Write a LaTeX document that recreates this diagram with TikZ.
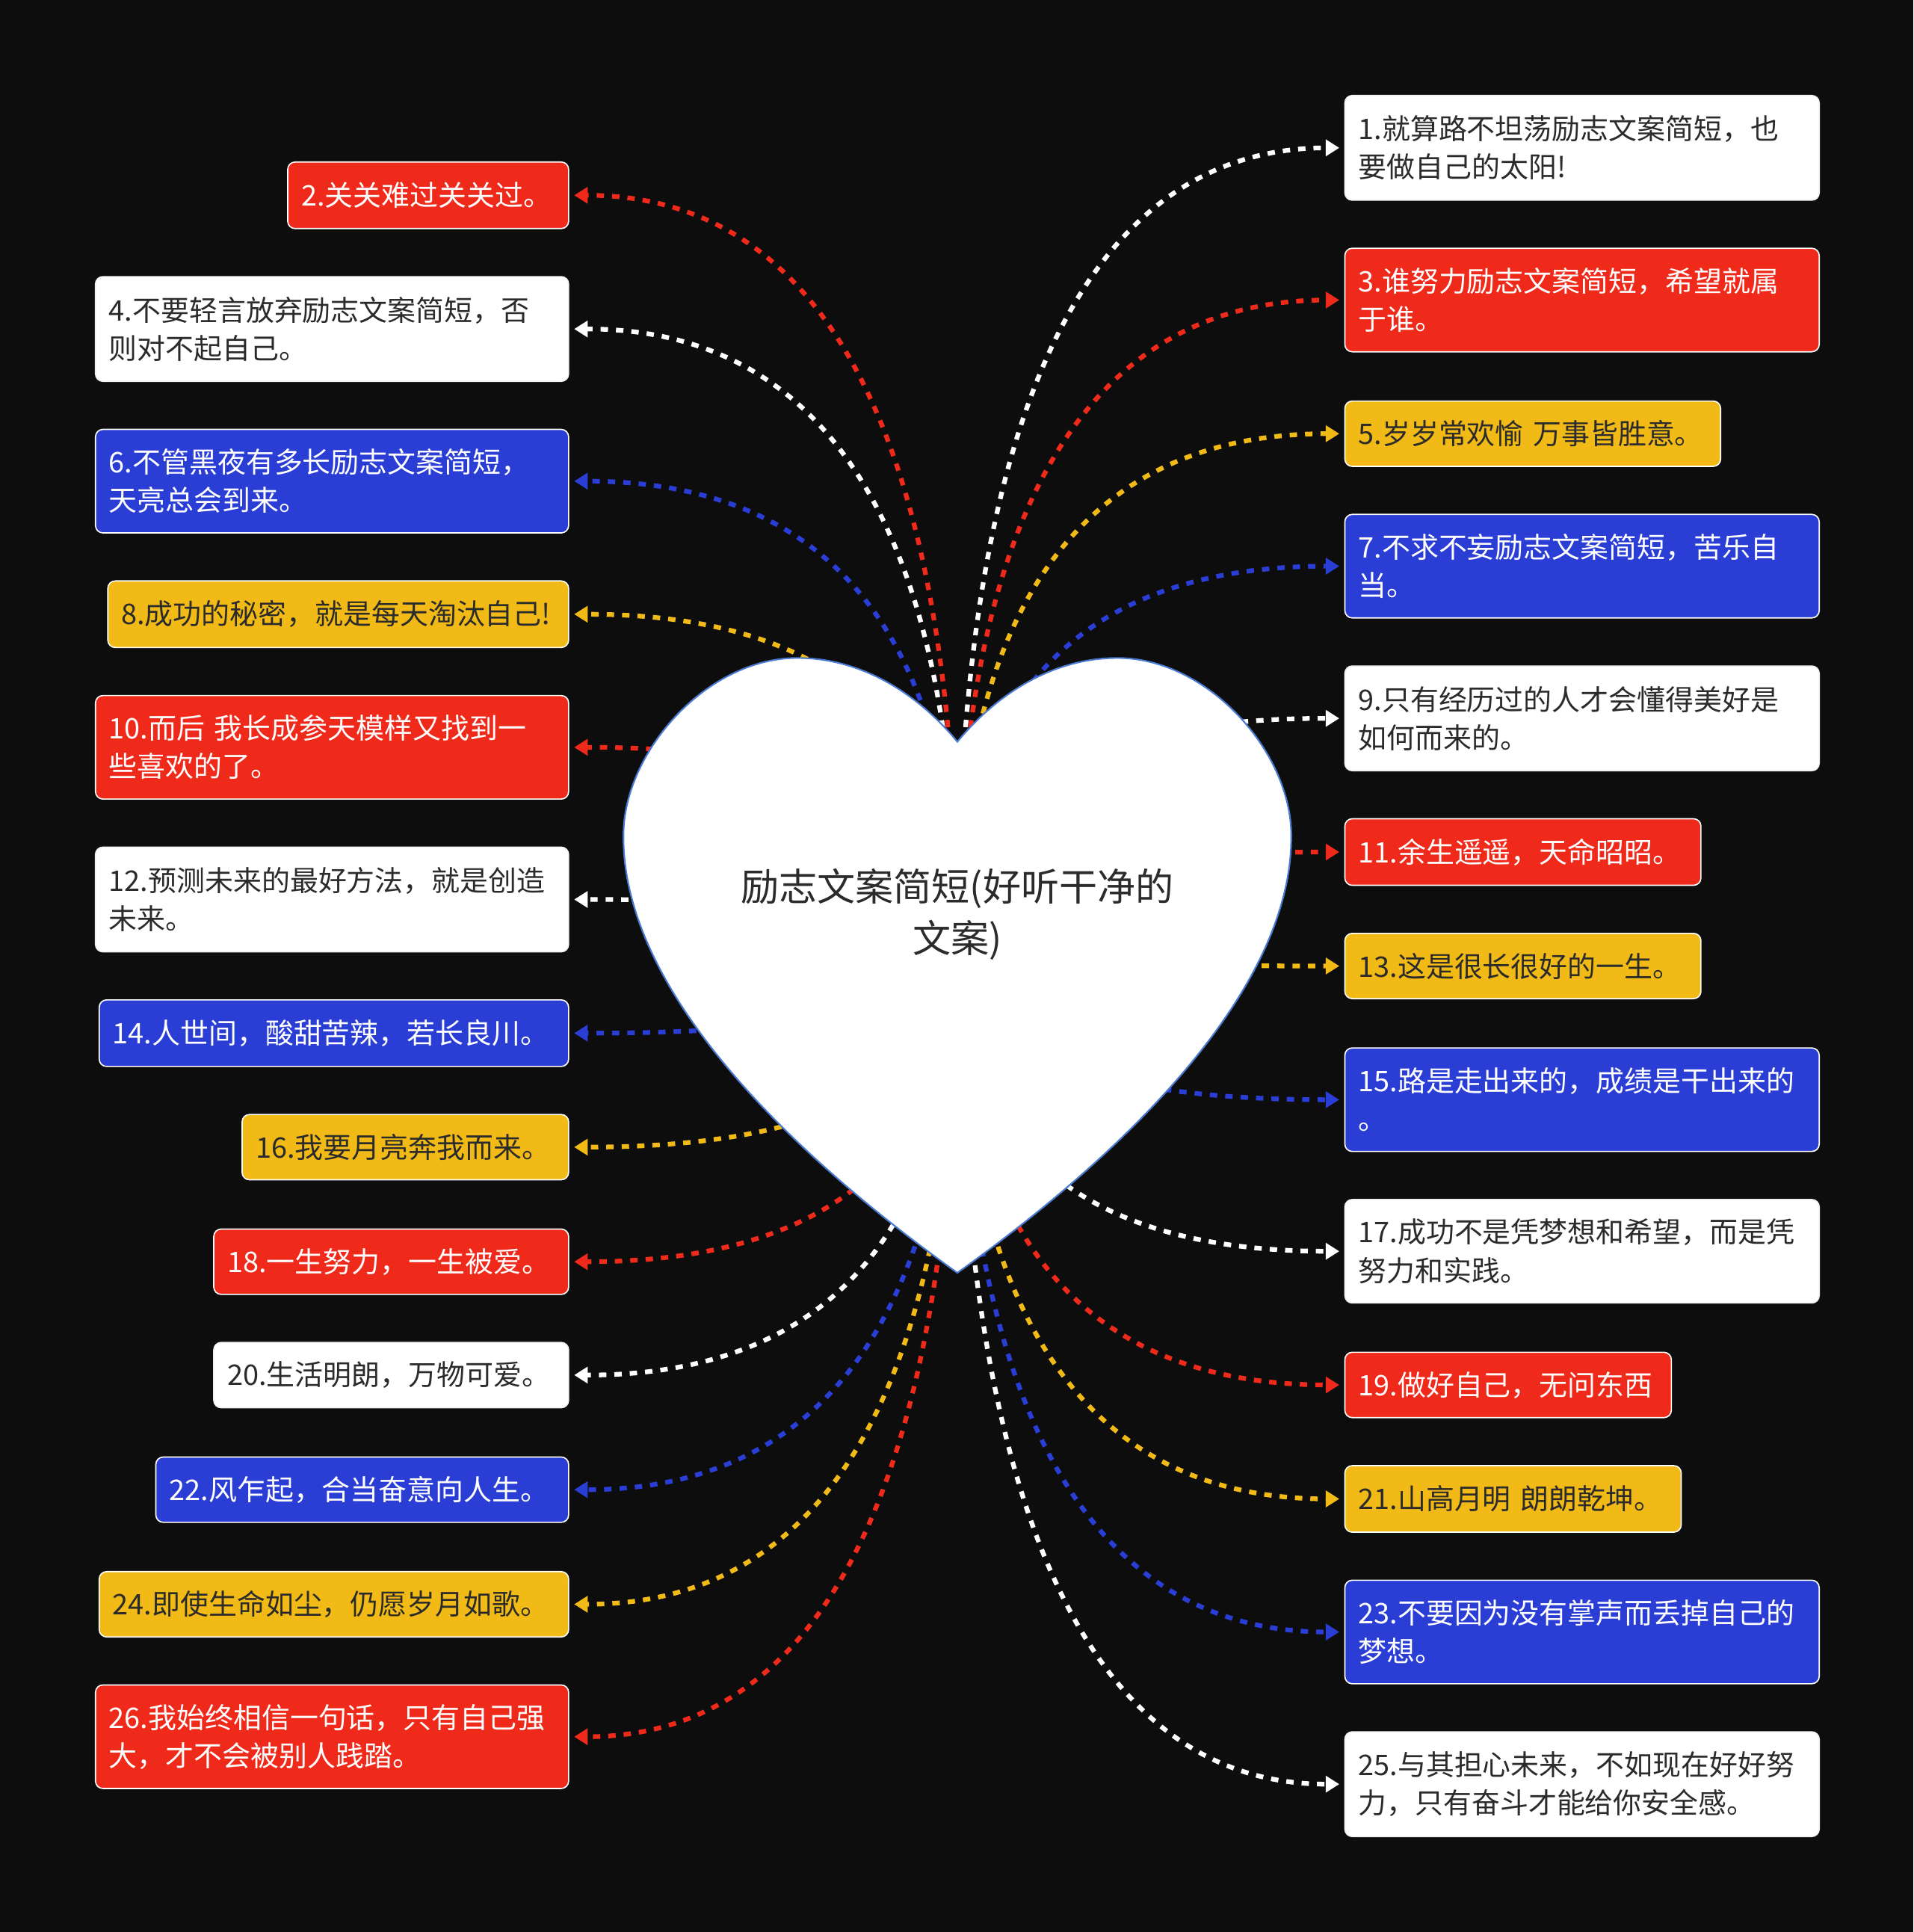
\documentclass[tikz,border=0pt]{standalone}
\usepackage{fontspec}
\setmainfont{Noto Sans CJK SC}
\usetikzlibrary{arrows.meta,calc}

\definecolor{bgdark}{HTML}{0D0D0D}
\definecolor{boxred}{HTML}{EF2A1B}
\definecolor{boxblue}{HTML}{2A3ED6}
\definecolor{boxyellow}{HTML}{F1BA17}
\definecolor{inkgray}{HTML}{2B2B2B}
\definecolor{heartline}{HTML}{4A7BD0}

\begin{document}
\begin{tikzpicture}[x=1pt, y=-1pt,
    card/.style={rectangle, rounded corners=6pt, draw=white, line width=1pt,
      anchor=north west, align=left, inner xsep=11pt, inner ysep=0pt,
      font=\fontsize{23}{31}\selectfont},
    wd/.style={minimum width=#1pt, text width=#1pt-22pt},
    ht/.style={minimum height=#1pt},
    redcard/.style={card, fill=boxred, text=white},
    bluecard/.style={card, fill=boxblue, text=white},
    yellowcard/.style={card, fill=boxyellow, text=inkgray},
    whitecard/.style={card, fill=white, draw=white!90!gray, text=inkgray},
    link/.style={draw=#1, line width=3.8pt, dash pattern=on 6pt off 6.5pt,
      -{Triangle[length=11pt,width=13pt]}, shorten >=4pt},
    heart/.style={fill=white, draw=heartline, line width=1.3pt}]

    \fill[bgdark] (0,0) rectangle (1553,1568);

    % left column
    \node[redcard, wd=228, ht=54] (b2) at (233,131) {2.关关难过关关过。};
    \node[whitecard, wd=384, ht=85] (b4) at (77,224) {4.不要轻言放弃励志文案简短，否\\则对不起自己。};
    \node[bluecard, wd=384, ht=84] (b6) at (77,348) {6.不管黑夜有多长励志文案简短，\\天亮总会到来。};
    \node[yellowcard, wd=374, ht=54] (b8) at (87,471) {8.成功的秘密，就是每天淘汰自己!};
    \node[redcard, wd=384, ht=84] (b10) at (77,564) {10.而后 我长成参天模样又找到一\\些喜欢的了。};
    \node[whitecard, wd=384, ht=85] (b12) at (77,687) {12.预测未来的最好方法，就是创造\\未来。};
    \node[bluecard, wd=381, ht=54] (b14) at (80,811) {14.人世间，酸甜苦辣，若长良川。};
    \node[yellowcard, wd=265, ht=53] (b16) at (196,904) {16.我要月亮奔我而来。};
    \node[redcard, wd=288, ht=53] (b18) at (173,997) {18.一生努力，一生被爱。};
    \node[whitecard, wd=288, ht=53] (b20) at (173,1089) {20.生活明朗，万物可爱。};
    \node[bluecard, wd=335, ht=53] (b22) at (126,1182) {22.风乍起，合当奋意向人生。};
    \node[yellowcard, wd=381, ht=53] (b24) at (80,1275) {24.即使生命如尘，仍愿岁月如歌。};
    \node[redcard, wd=384, ht=84] (b26) at (77,1367) {26.我始终相信一句话，只有自己强\\大，才不会被别人践踏。};

    % right column
    \node[whitecard, wd=385, ht=85] (b1) at (1091,77) {1.就算路不坦荡励志文案简短，也\\要做自己的太阳!};
    \node[redcard, wd=385, ht=84] (b3) at (1091,201) {3.谁努力励志文案简短，希望就属\\于谁。};
    \node[yellowcard, wd=305, ht=53] (b5) at (1091,325) {5.岁岁常欢愉 万事皆胜意。};
    \node[bluecard, wd=385, ht=84] (b7) at (1091,417) {7.不求不妄励志文案简短，苦乐自\\当。};
    \node[whitecard, wd=385, ht=85] (b9) at (1091,540) {9.只有经历过的人才会懂得美好是\\如何而来的。};
    \node[redcard, wd=289, ht=54] (b11) at (1091,664) {11.余生遥遥，天命昭昭。};
    \node[yellowcard, wd=289, ht=53] (b13) at (1091,757) {13.这是很长很好的一生。};
    \node[bluecard, wd=385, ht=84] (b15) at (1091,850) {15.路是走出来的，成绩是干出来的\\。};
    \node[whitecard, wd=385, ht=84] (b17) at (1091,973) {17.成功不是凭梦想和希望，而是凭\\努力和实践。};
    \node[redcard, wd=265, ht=53] (b19) at (1091,1097) {19.做好自己，无问东西};
    \node[yellowcard, wd=273, ht=54] (b21) at (1091,1189) {21.山高月明 朗朗乾坤。};
    \node[bluecard, wd=385, ht=84] (b23) at (1091,1282) {23.不要因为没有掌声而丢掉自己的\\梦想。};
    \node[whitecard, wd=385, ht=85] (b25) at (1091,1405) {25.与其担心未来，不如现在好好努\\力，只有奋斗才能给你安全感。};

    % connectors start under the heart
    \coordinate (hub) at (777,765);
    \foreach \n/\c in {b2/boxred, b4/white, b6/boxblue, b8/boxyellow, b10/boxred,
        b12/white, b14/boxblue, b16/boxyellow, b18/boxred, b20/white,
        b22/boxblue, b24/boxyellow, b26/boxred}
      \draw[link=\c] (hub) .. controls ($(hub)!2/3!(hub |- \n.east)$)
        and ($(\n.east)!2/3!(hub |- \n.east)$) .. (\n.east);
    \foreach \n/\c in {b1/white, b3/boxred, b5/boxyellow, b7/boxblue, b9/white,
        b11/boxred, b13/boxyellow, b15/boxblue, b17/white, b19/boxred,
        b21/boxyellow, b23/boxblue, b25/white}
      \draw[link=\c] (hub) .. controls ($(hub)!2/3!(hub |- \n.west)$)
        and ($(\n.west)!2/3!(hub |- \n.west)$) .. (\n.west);

    % heart
    \path[heart] (777,602) .. controls (805,568) and (850,534) .. (907,534)
      .. controls (980,534) and (1048,610) .. (1048,678)
      .. controls (1049,805) and (910,938) .. (777,1033)
      .. controls (644,938) and (505,805) .. (506,678)
      .. controls (506,610) and (574,534) .. (647,534)
      .. controls (704,534) and (749,568) .. (777,602) -- cycle;
    \node[align=center, text=inkgray, font=\fontsize{31}{42}\selectfont] (topic)
      at (777,742) {励志文案简短(好听干净的\\文案)};
\end{tikzpicture}
\end{document}
